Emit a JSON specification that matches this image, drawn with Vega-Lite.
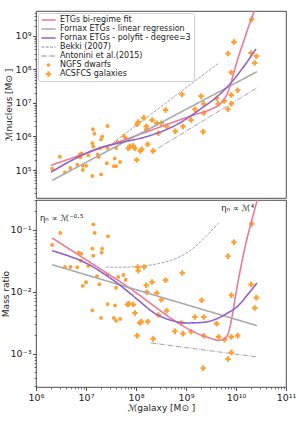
{
  "$schema": "https://vega.github.io/schema/vega-lite/v6.json",
  "padding": {"left": 0, "top": 10, "right": 0, "bottom": 0},
  "config": {
    "font": "DejaVu Sans",
    "view": {"stroke": "#222222", "strokeWidth": 0.8},
    "axis": {"labelFont": "DejaVu Sans", "titleFont": "DejaVu Sans", "labelFontSize": 9.5, "titleFontSize": 9, "titleFontWeight": "normal", "labelColor": "#222222", "titleColor": "#222222", "tickColor": "#222222", "domain": false, "grid": false, "tickSize": 3.5, "tickWidth": 0.8, "labelPadding": 1.5, "labelFlush": false, "labelOverlap": false}
  },
  "datasets": {
    "topPts": [
      {"M": 2.1e6, "N": 1.09e5, "s": "NGFS dwarfs"}, {"M": 3.0e6, "N": 2.5e5, "s": "NGFS dwarfs"}, {"M": 3.8e6, "N": 8.5e4, "s": "NGFS dwarfs"}, {"M": 4.85e6, "N": 1.15e5, "s": "NGFS dwarfs"}, {"M": 6.7e6, "N": 1.44e5, "s": "NGFS dwarfs"}, {"M": 7.1e6, "N": 2.5e5, "s": "NGFS dwarfs"}, {"M": 7.5e6, "N": 2.9e5, "s": "NGFS dwarfs"}, {"M": 8.1e6, "N": 3.1e5, "s": "NGFS dwarfs"}, {"M": 7.8e6, "N": 2.4e5, "s": "NGFS dwarfs"}, {"M": 8.6e6, "N": 1.34e5, "s": "NGFS dwarfs"}, {"M": 1.01e7, "N": 1.34e5, "s": "NGFS dwarfs"}, {"M": 8.6e6, "N": 1.0e5, "s": "NGFS dwarfs"}, {"M": 1.34e7, "N": 6.6e4, "s": "NGFS dwarfs"}, {"M": 2.0e7, "N": 7.4e4, "s": "NGFS dwarfs"}, {"M": 1.38e7, "N": 1.64e6, "s": "NGFS dwarfs"}, {"M": 1.47e7, "N": 1.21e6, "s": "NGFS dwarfs"}, {"M": 2.7e7, "N": 2.06e6, "s": "NGFS dwarfs"}, {"M": 2.1e7, "N": 9.9e5, "s": "NGFS dwarfs"}, {"M": 2.0e7, "N": 8.2e5, "s": "NGFS dwarfs"}, {"M": 1.34e7, "N": 6.3e5, "s": "NGFS dwarfs"}, {"M": 1.4e7, "N": 5.0e5, "s": "NGFS dwarfs"}, {"M": 1.93e7, "N": 4.45e5, "s": "NGFS dwarfs"}, {"M": 1.11e7, "N": 2.75e5, "s": "NGFS dwarfs"}, {"M": 1.71e7, "N": 2.9e5, "s": "NGFS dwarfs"}, {"M": 1.8e7, "N": 2.45e5, "s": "NGFS dwarfs"}, {"M": 2.7e7, "N": 4.5e5, "s": "NGFS dwarfs"}, {"M": 2.6e7, "N": 1.6e5, "s": "NGFS dwarfs"}, {"M": 3.75e7, "N": 2.2e5, "s": "NGFS dwarfs"}, {"M": 3.6e7, "N": 1.3e5, "s": "NGFS dwarfs"}, {"M": 4.0e7, "N": 1.3e5, "s": "NGFS dwarfs"}, {"M": 4.8e7, "N": 1.73e5, "s": "NGFS dwarfs"}, {"M": 4.2e7, "N": 6.9e5, "s": "NGFS dwarfs"}, {"M": 5.7e7, "N": 1.04e6, "s": "NGFS dwarfs"}, {"M": 4.0e7, "N": 4.5e5, "s": "NGFS dwarfs"}, {"M": 6.2e7, "N": 9.2e5, "s": "NGFS dwarfs"},
      {"M": 7.0e7, "N": 4.45e5, "s": "ACSFCS galaxies"}, {"M": 7.5e7, "N": 5.0e5, "s": "ACSFCS galaxies"}, {"M": 9.5e7, "N": 4.45e5, "s": "ACSFCS galaxies"}, {"M": 8.8e7, "N": 5.3e5, "s": "ACSFCS galaxies"}, {"M": 1.03e8, "N": 2.0e5, "s": "ACSFCS galaxies"}, {"M": 1.22e8, "N": 3.7e5, "s": "ACSFCS galaxies"}, {"M": 1.3e8, "N": 4.15e5, "s": "ACSFCS galaxies"}, {"M": 1.71e8, "N": 5.85e5, "s": "ACSFCS galaxies"}, {"M": 2.2e8, "N": 3.7e5, "s": "ACSFCS galaxies"}, {"M": 1.05e8, "N": 2.3e6, "s": "ACSFCS galaxies"}, {"M": 1.11e8, "N": 2.7e6, "s": "ACSFCS galaxies"}, {"M": 1.43e8, "N": 3.6e6, "s": "ACSFCS galaxies"}, {"M": 1.6e8, "N": 2.0e6, "s": "ACSFCS galaxies"}, {"M": 1.64e8, "N": 1.6e6, "s": "ACSFCS galaxies"}, {"M": 2.1e8, "N": 3.1e6, "s": "ACSFCS galaxies"}, {"M": 2.6e8, "N": 2.5e6, "s": "ACSFCS galaxies"}, {"M": 3.2e8, "N": 2.5e6, "s": "ACSFCS galaxies"}, {"M": 2.8e8, "N": 1.25e6, "s": "ACSFCS galaxies"}, {"M": 3.9e8, "N": 6.2e6, "s": "ACSFCS galaxies"}, {"M": 4.1e8, "N": 2.0e6, "s": "ACSFCS galaxies"}, {"M": 6.1e8, "N": 1.43e6, "s": "ACSFCS galaxies"}, {"M": 8.7e8, "N": 2.0e6, "s": "ACSFCS galaxies"}, {"M": 8.3e8, "N": 1.8e7, "s": "ACSFCS galaxies"}, {"M": 1.26e9, "N": 3.1e6, "s": "ACSFCS galaxies"}, {"M": 2.0e9, "N": 1.6e7, "s": "ACSFCS galaxies"}, {"M": 1.5e9, "N": 6.5e6, "s": "ACSFCS galaxies"}, {"M": 2.26e9, "N": 5.0e6, "s": "ACSFCS galaxies"}, {"M": 2.2e9, "N": 1.39e6, "s": "ACSFCS galaxies"}, {"M": 2.26e9, "N": 9.5e6, "s": "ACSFCS galaxies"}, {"M": 2.06e10, "N": 3.15e9, "s": "ACSFCS galaxies"}, {"M": 9.1e9, "N": 6.6e8, "s": "ACSFCS galaxies"}, {"M": 6.9e9, "N": 3.0e8, "s": "ACSFCS galaxies"}, {"M": 2.0e10, "N": 3.1e8, "s": "ACSFCS galaxies"}, {"M": 2.55e10, "N": 2.5e8, "s": "ACSFCS galaxies"}, {"M": 2.37e10, "N": 1.56e8, "s": "ACSFCS galaxies"}, {"M": 8.05e9, "N": 8.2e7, "s": "ACSFCS galaxies"}, {"M": 1.08e10, "N": 2.4e7, "s": "ACSFCS galaxies"}, {"M": 8.05e9, "N": 1.73e7, "s": "ACSFCS galaxies"}, {"M": 5.8e9, "N": 1.15e7, "s": "ACSFCS galaxies"}, {"M": 8.05e9, "N": 9.5e6, "s": "ACSFCS galaxies"}, {"M": 6.9e9, "N": 6.5e6, "s": "ACSFCS galaxies"}, {"M": 4.1e9, "N": 1.38e7, "s": "ACSFCS galaxies"}, {"M": 4.4e9, "N": 9.5e6, "s": "ACSFCS galaxies"}
    ],
    "botPts": [
      {"M": 2.1e6, "R": 0.0566, "s": "NGFS dwarfs"}, {"M": 3.06e6, "R": 0.0885, "s": "NGFS dwarfs"}, {"M": 1.4e7, "R": 0.122, "s": "NGFS dwarfs"}, {"M": 1.49e7, "R": 0.0885, "s": "NGFS dwarfs"}, {"M": 2.75e7, "R": 0.078, "s": "NGFS dwarfs"}, {"M": 1.34e7, "R": 0.0494, "s": "NGFS dwarfs"}, {"M": 2.1e7, "R": 0.0494, "s": "NGFS dwarfs"}, {"M": 2.06e7, "R": 0.0426, "s": "NGFS dwarfs"}, {"M": 1.4e7, "R": 0.0381, "s": "NGFS dwarfs"}, {"M": 7.1e6, "R": 0.0426, "s": "NGFS dwarfs"}, {"M": 8.05e6, "R": 0.041, "s": "NGFS dwarfs"}, {"M": 7.9e6, "R": 0.0316, "s": "NGFS dwarfs"}, {"M": 1.11e7, "R": 0.0262, "s": "NGFS dwarfs"}, {"M": 3.8e6, "R": 0.025, "s": "NGFS dwarfs"}, {"M": 4.9e6, "R": 0.025, "s": "NGFS dwarfs"}, {"M": 6.7e6, "R": 0.0248, "s": "NGFS dwarfs"}, {"M": 1.66e7, "R": 0.0177, "s": "NGFS dwarfs"}, {"M": 2.7e7, "R": 0.0188, "s": "NGFS dwarfs"}, {"M": 4.4e7, "R": 0.0173, "s": "NGFS dwarfs"}, {"M": 5.6e7, "R": 0.0186, "s": "NGFS dwarfs"}, {"M": 1.0e7, "R": 0.0142, "s": "NGFS dwarfs"}, {"M": 8.6e6, "R": 0.0124, "s": "NGFS dwarfs"}, {"M": 1.85e7, "R": 0.0132, "s": "NGFS dwarfs"}, {"M": 4.0e7, "R": 0.0116, "s": "NGFS dwarfs"}, {"M": 1.34e7, "R": 0.005, "s": "NGFS dwarfs"}, {"M": 2.7e7, "R": 0.0063, "s": "NGFS dwarfs"}, {"M": 3.8e7, "R": 0.006, "s": "NGFS dwarfs"}, {"M": 2.0e7, "R": 0.00377, "s": "NGFS dwarfs"}, {"M": 3.6e7, "R": 0.00377, "s": "NGFS dwarfs"}, {"M": 4.0e7, "R": 0.0034, "s": "NGFS dwarfs"}, {"M": 4.8e7, "R": 0.00363, "s": "NGFS dwarfs"}, {"M": 6.2e7, "R": 0.0156, "s": "NGFS dwarfs"},
      {"M": 1.08e8, "R": 0.025, "s": "ACSFCS galaxies"}, {"M": 1.11e8, "R": 0.0218, "s": "ACSFCS galaxies"}, {"M": 1.45e8, "R": 0.025, "s": "ACSFCS galaxies"}, {"M": 1.6e8, "R": 0.0127, "s": "ACSFCS galaxies"}, {"M": 2.1e8, "R": 0.0143, "s": "ACSFCS galaxies"}, {"M": 3.9e8, "R": 0.0153, "s": "ACSFCS galaxies"}, {"M": 8.4e8, "R": 0.02, "s": "ACSFCS galaxies"}, {"M": 1.64e8, "R": 0.0098, "s": "ACSFCS galaxies"}, {"M": 2.6e8, "R": 0.0095, "s": "ACSFCS galaxies"}, {"M": 3.2e8, "R": 0.0074, "s": "ACSFCS galaxies"}, {"M": 6.8e7, "R": 0.0062, "s": "ACSFCS galaxies"}, {"M": 7.2e7, "R": 0.0064, "s": "ACSFCS galaxies"}, {"M": 8.8e7, "R": 0.0062, "s": "ACSFCS galaxies"}, {"M": 9.5e7, "R": 0.00453, "s": "ACSFCS galaxies"}, {"M": 1.19e8, "R": 0.00313, "s": "ACSFCS galaxies"}, {"M": 1.28e8, "R": 0.00328, "s": "ACSFCS galaxies"}, {"M": 1.71e8, "R": 0.00328, "s": "ACSFCS galaxies"}, {"M": 2.8e8, "R": 0.0042, "s": "ACSFCS galaxies"}, {"M": 1.05e8, "R": 0.00195, "s": "ACSFCS galaxies"}, {"M": 2.2e8, "R": 0.00173, "s": "ACSFCS galaxies"}, {"M": 4.1e8, "R": 0.00494, "s": "ACSFCS galaxies"}, {"M": 8.05e8, "R": 0.00313, "s": "ACSFCS galaxies"}, {"M": 6.0e8, "R": 0.0023, "s": "ACSFCS galaxies"}, {"M": 8.7e8, "R": 0.0021, "s": "ACSFCS galaxies"}, {"M": 1.26e9, "R": 0.00226, "s": "ACSFCS galaxies"}, {"M": 2.06e9, "R": 0.00726, "s": "ACSFCS galaxies"}, {"M": 1.5e9, "R": 0.0039, "s": "ACSFCS galaxies"}, {"M": 2.26e9, "R": 0.0039, "s": "ACSFCS galaxies"}, {"M": 2.26e9, "R": 0.00195, "s": "ACSFCS galaxies"}, {"M": 2.2e9, "R": 0.000582, "s": "ACSFCS galaxies"}, {"M": 2.06e10, "R": 0.1236, "s": "ACSFCS galaxies"}, {"M": 9.1e9, "R": 0.0627, "s": "ACSFCS galaxies"}, {"M": 6.9e9, "R": 0.0373, "s": "ACSFCS galaxies"}, {"M": 2.0e10, "R": 0.013, "s": "ACSFCS galaxies"}, {"M": 2.55e10, "R": 0.008, "s": "ACSFCS galaxies"}, {"M": 2.37e10, "R": 0.00546, "s": "ACSFCS galaxies"}, {"M": 8.05e9, "R": 0.00875, "s": "ACSFCS galaxies"}, {"M": 4.1e9, "R": 0.00305, "s": "ACSFCS galaxies"}, {"M": 4.5e9, "R": 0.00186, "s": "ACSFCS galaxies"}, {"M": 5.9e9, "R": 0.00168, "s": "ACSFCS galaxies"}, {"M": 8.05e9, "R": 0.00186, "s": "ACSFCS galaxies"}, {"M": 1.08e10, "R": 0.00195, "s": "ACSFCS galaxies"}, {"M": 8.05e9, "R": 0.00104, "s": "ACSFCS galaxies"}, {"M": 6.9e9, "R": 0.00082, "s": "ACSFCS galaxies"}
    ],
    "topMain": [
      {"M": 2.0e6, "N": 1.38e5, "s": "ETGs bi-regime fit"}, {"M": 5.0e7, "N": 7.3e5, "s": "ETGs bi-regime fit"}, {"M": 1.58e9, "N": 4.6e6, "s": "ETGs bi-regime fit"}, {"M": 3.16e9, "N": 6.5e6, "s": "ETGs bi-regime fit"}, {"M": 4.37e9, "N": 8.4e6, "s": "ETGs bi-regime fit"}, {"M": 5.83e9, "N": 1.29e7, "s": "ETGs bi-regime fit"}, {"M": 6.8e9, "N": 2.03e7, "s": "ETGs bi-regime fit"}, {"M": 7.94e9, "N": 4.0e7, "s": "ETGs bi-regime fit"}, {"M": 9.25e9, "N": 9.0e7, "s": "ETGs bi-regime fit"}, {"M": 1.16e10, "N": 2.84e8, "s": "ETGs bi-regime fit"}, {"M": 1.47e10, "N": 8.0e8, "s": "ETGs bi-regime fit"}, {"M": 1.85e10, "N": 2.23e9, "s": "ETGs bi-regime fit"}, {"M": 2.32e10, "N": 5.6e9, "s": "ETGs bi-regime fit"}, {"M": 2.82e10, "N": 1.33e10, "s": "ETGs bi-regime fit"},
      {"M": 2.1e6, "N": 4.9e4, "s": "Fornax ETGs - linear regression"}, {"M": 2.63e10, "N": 8.6e7, "s": "Fornax ETGs - linear regression"},
      {"M": 2.0e6, "N": 8.7e4, "s": "Fornax ETGs - polyfit - degree=3"}, {"M": 5.4e6, "N": 2.0e5, "s": "Fornax ETGs - polyfit - degree=3"}, {"M": 1.58e7, "N": 4.17e5, "s": "Fornax ETGs - polyfit - degree=3"}, {"M": 5.0e7, "N": 6.6e5, "s": "Fornax ETGs - polyfit - degree=3"}, {"M": 1.58e8, "N": 9.8e5, "s": "Fornax ETGs - polyfit - degree=3"}, {"M": 7.35e8, "N": 2.5e6, "s": "Fornax ETGs - polyfit - degree=3"}, {"M": 2.0e9, "N": 6.8e6, "s": "Fornax ETGs - polyfit - degree=3"}, {"M": 4.3e9, "N": 1.6e7, "s": "Fornax ETGs - polyfit - degree=3"}, {"M": 7.94e9, "N": 4.0e7, "s": "Fornax ETGs - polyfit - degree=3"}, {"M": 1.47e10, "N": 1.3e8, "s": "Fornax ETGs - polyfit - degree=3"}, {"M": 2.51e10, "N": 4.1e8, "s": "Fornax ETGs - polyfit - degree=3"}
    ],
    "topRef": [
      {"M": 2.5e7, "N": 4.45e5, "s": "Bekki (2007)"}, {"M": 4.63e9, "N": 1.6e8, "s": "Bekki (2007)"},
      {"M": 2.0e8, "N": 3.33e5, "s": "Antonini et al.(2015)"}, {"M": 2.67e10, "N": 2.86e7, "s": "Antonini et al.(2015)"}
    ],
    "botMain": [
      {"M": 2.1e6, "R": 0.0735, "s": "ETGs bi-regime fit"}, {"M": 5.0e7, "R": 0.0142, "s": "ETGs bi-regime fit"}, {"M": 2.32e9, "R": 0.00191, "s": "ETGs bi-regime fit"}, {"M": 3.42e9, "R": 0.00173, "s": "ETGs bi-regime fit"}, {"M": 4.3e9, "R": 0.00164, "s": "ETGs bi-regime fit"}, {"M": 5.42e9, "R": 0.00168, "s": "ETGs bi-regime fit"}, {"M": 6.82e9, "R": 0.00202, "s": "ETGs bi-regime fit"}, {"M": 7.35e9, "R": 0.00244, "s": "ETGs bi-regime fit"}, {"M": 8.6e9, "R": 0.00453, "s": "ETGs bi-regime fit"}, {"M": 1.0e10, "R": 0.00953, "s": "ETGs bi-regime fit"}, {"M": 1.26e10, "R": 0.0257, "s": "ETGs bi-regime fit"}, {"M": 1.58e10, "R": 0.061, "s": "ETGs bi-regime fit"}, {"M": 2.0e10, "R": 0.128, "s": "ETGs bi-regime fit"}, {"M": 2.51e10, "R": 0.253, "s": "ETGs bi-regime fit"}, {"M": 2.9e10, "R": 0.39, "s": "ETGs bi-regime fit"},
      {"M": 2.1e6, "R": 0.0272, "s": "Fornax ETGs - linear regression"}, {"M": 2.63e10, "R": 0.00283, "s": "Fornax ETGs - linear regression"},
      {"M": 2.1e6, "R": 0.0458, "s": "Fornax ETGs - polyfit - degree=3"}, {"M": 4.63e6, "R": 0.0373, "s": "Fornax ETGs - polyfit - degree=3"}, {"M": 1.0e7, "R": 0.029, "s": "Fornax ETGs - polyfit - degree=3"}, {"M": 2.16e7, "R": 0.02, "s": "Fornax ETGs - polyfit - degree=3"}, {"M": 4.63e7, "R": 0.013, "s": "Fornax ETGs - polyfit - degree=3"}, {"M": 1.08e8, "R": 0.00743, "s": "Fornax ETGs - polyfit - degree=3"}, {"M": 2.32e8, "R": 0.00453, "s": "Fornax ETGs - polyfit - degree=3"}, {"M": 5.0e8, "R": 0.00346, "s": "Fornax ETGs - polyfit - degree=3"}, {"M": 1.08e9, "R": 0.00313, "s": "Fornax ETGs - polyfit - degree=3"}, {"M": 2.32e9, "R": 0.00321, "s": "Fornax ETGs - polyfit - degree=3"}, {"M": 3.68e9, "R": 0.00353, "s": "Fornax ETGs - polyfit - degree=3"}, {"M": 6.82e9, "R": 0.00453, "s": "Fornax ETGs - polyfit - degree=3"}, {"M": 1.08e10, "R": 0.00582, "s": "Fornax ETGs - polyfit - degree=3"}, {"M": 1.71e10, "R": 0.00896, "s": "Fornax ETGs - polyfit - degree=3"}, {"M": 2.63e10, "R": 0.0138, "s": "Fornax ETGs - polyfit - degree=3"}
    ],
    "botRef": [
      {"M": 2.5e7, "R": 0.0248, "s": "Bekki (2007)"}, {"M": 5.0e7, "R": 0.0248, "s": "Bekki (2007)"}, {"M": 1.26e8, "R": 0.0257, "s": "Bekki (2007)"}, {"M": 3.16e8, "R": 0.029, "s": "Bekki (2007)"}, {"M": 7.94e8, "R": 0.0373, "s": "Bekki (2007)"}, {"M": 1.58e9, "R": 0.0546, "s": "Bekki (2007)"}, {"M": 2.5e9, "R": 0.0777, "s": "Bekki (2007)"}, {"M": 4.5e9, "R": 0.128, "s": "Bekki (2007)"},
      {"M": 2.0e8, "R": 0.00149, "s": "Antonini et al.(2015)"}, {"M": 2.63e10, "R": 0.000885, "s": "Antonini et al.(2015)"}
    ],
    "notes": [
      {"M": 1.2e6, "R": 0.155, "t": "ηₙ ∝ ℳ⁻⁰·⁵", "a": "left"},
      {"M": 2.3e10, "R": 0.222, "t": "ηₙ ∝ ℳ⁴", "a": "right"}
    ]
  },
  "spacing": 0,
  "resolve": {"legend": {"color": "independent", "shape": "independent", "strokeDash": "independent"}},
  "vconcat": [
    {
      "width": 250,
      "height": 187,
      "resolve": {"axis": {"x": "independent", "y": "independent"}},
      "layer": [
        {
          "encoding": {
            "x": {"field": "M", "type": "quantitative", "scale": {"type": "log", "domain": [1e6, 1e11], "nice": false}, "axis": null},
            "y": {"field": "N", "type": "quantitative", "scale": {"type": "log", "domain": [14600, 5.57e9], "nice": false},
                  "axis": {"values": [1e5, 1e6, 1e7, 1e8, 1e9], "labelExpr": "['10⁵','10⁶','10⁷','10⁸','10⁹'][round(log(datum.value)/LN10)-5]", "title": "ℳnucleus [M⊙ ]", "titleX": -28, "titleBaseline": "middle"}},
            "color": {"field": "s", "type": "nominal",
              "scale": {"domain": ["ETGs bi-regime fit", "Fornax ETGs - linear regression", "Fornax ETGs - polyfit - degree=3", "Bekki (2007)", "Antonini et al.(2015)", "NGFS dwarfs", "ACSFCS galaxies"],
                        "range": ["#ea7a98", "#aaaaaa", "#9063c4", "#8c8c8c", "#8c8c8c", "#ffa033", "#ffa033"]},
              "legend": {"title": null, "orient": "top-left", "offset": 2, "padding": 3, "strokeColor": "#d0d0d0", "fillColor": "#ffffff", "cornerRadius": 2,
                         "labelFontSize": 8, "labelFont": "DejaVu Sans", "labelColor": "#222222", "symbolSize": 50, "rowPadding": 1, "labelOffset": 7.4, "symbolOffset": 3.5, "labelLimit": 300,
                         "encode": {"symbols": {"update": {
                            "fill": {"signal": "scale('color', datum.value)"},
                            "stroke": {"signal": "scale('color', datum.value)"},
                            "opacity": {"value": 1},
                            "size": {"signal": "datum.value === 'NGFS dwarfs' ? 14 : (datum.value === 'ACSFCS galaxies' ? 28 : 50)"},
                            "strokeWidth": {"signal": "(datum.value === 'NGFS dwarfs' || datum.value === 'ACSFCS galaxies') ? 0 : ((datum.value === 'Bekki (2007)' || datum.value === 'Antonini et al.(2015)') ? 1 : 1.6)"}
                         }}}}
            }
          },
          "layer": [
            {
              "data": {"name": "topRef"},
              "mark": {"type": "line", "strokeWidth": 0.8, "clip": true},
              "encoding": {
                "strokeDash": {"field": "s", "type": "nominal", "scale": {"domain": ["ETGs bi-regime fit", "Fornax ETGs - linear regression", "Fornax ETGs - polyfit - degree=3", "Bekki (2007)", "Antonini et al.(2015)", "NGFS dwarfs", "ACSFCS galaxies"], "range": [[1, 0], [1, 0], [1, 0], [3, 1.3], [5, 1.3, 0.8, 1.3], [1, 0], [1, 0]]}, "legend": {"title": null}}
              }
            },
            {
              "data": {"name": "topPts"},
              "transform": [{"filter": "datum.s === 'NGFS dwarfs'"}],
              "mark": {"type": "point", "filled": true, "size": 15, "opacity": 1},
              "encoding": {
                "shape": {"field": "s", "type": "nominal", "scale": {"domain": ["ETGs bi-regime fit", "Fornax ETGs - linear regression", "Fornax ETGs - polyfit - degree=3", "Bekki (2007)", "Antonini et al.(2015)", "NGFS dwarfs", "ACSFCS galaxies"], "range": ["M-2,0L2,0", "M-2,0L2,0", "M-2,0L2,0", "M-2,0L2,0", "M-2,0L2,0", "circle", "cross"]}, "legend": {"title": null}}
              }
            },
            {
              "data": {"name": "topPts"},
              "transform": [{"filter": "datum.s === 'ACSFCS galaxies'"}],
              "mark": {"type": "point", "filled": true, "size": 30, "opacity": 1},
              "encoding": {"shape": {"field": "s", "type": "nominal", "legend": {"title": null}}}
            },
            {
              "data": {"name": "topMain"},
              "mark": {"type": "line", "strokeWidth": 1.6, "clip": true, "interpolate": "monotone"},
              "encoding": {"strokeDash": {"field": "s", "type": "nominal", "legend": {"title": null}}}
            },
            {
              "data": {"values": [{}]},
              "mark": {"type": "rule", "clip": false, "strokeWidth": 1.6},
              "encoding": {
                "x": {"datum": 158500},
                "x2": {"datum": 160000000000},
                "y": {"datum": 14600},
                "color": {"value": "#aaaaaa"}
              }
            }
          ]
        },
        {
          "data": {"name": "topRef"},
          "mark": {"type": "point", "opacity": 0},
          "encoding": {
            "x": {"field": "M", "type": "quantitative", "axis": null},
            "y": {"field": "N", "type": "quantitative",
                  "axis": {"orient": "left", "labels": false, "title": null, "tickSize": 2, "tickWidth": 0.6,
                           "values": [20000, 30000, 40000, 50000, 60000, 70000, 80000, 90000, 200000, 300000, 400000, 500000, 600000, 700000, 800000, 900000, 2000000, 3000000, 4000000, 5000000, 6000000, 7000000, 8000000, 9000000, 20000000, 30000000, 40000000, 50000000, 60000000, 70000000, 80000000, 90000000, 200000000, 300000000, 400000000, 500000000, 600000000, 700000000, 800000000, 900000000, 2000000000, 3000000000, 4000000000, 5000000000]}}
          }
        }
      ]
    },
    {
      "width": 250,
      "height": 187,
      "resolve": {"axis": {"x": "independent", "y": "independent"}},
      "layer": [
        {
          "encoding": {
            "x": {"field": "M", "type": "quantitative", "scale": {"type": "log", "domain": [1e6, 1e11], "nice": false},
                  "axis": {"values": [1e6, 1e7, 1e8, 1e9, 1e10, 1e11], "labelExpr": "['10⁶','10⁷','10⁸','10⁹','10¹⁰','10¹¹'][round(log(datum.value)/LN10)-6]", "title": "ℳgalaxy [M⊙ ]", "titlePadding": 1, "labelPadding": 2}},
            "y": {"field": "R", "type": "quantitative", "scale": {"type": "log", "domain": [0.00029, 0.301], "nice": false},
                  "axis": {"values": [0.001, 0.01, 0.1], "labelExpr": "['10⁻³','10⁻²','10⁻¹'][round(log(datum.value)/LN10)+3]", "title": "Mass ratio", "titleX": -31, "titleBaseline": "middle"}},
            "color": {"field": "s", "type": "nominal", "legend": null}
          },
          "layer": [
            {
              "data": {"name": "botRef"},
              "mark": {"type": "line", "strokeWidth": 0.8, "clip": true, "interpolate": "monotone"},
              "encoding": {"strokeDash": {"field": "s", "type": "nominal", "legend": null}}
            },
            {
              "data": {"name": "botPts"},
              "transform": [{"filter": "datum.s === 'NGFS dwarfs'"}],
              "mark": {"type": "point", "filled": true, "size": 15, "opacity": 1},
              "encoding": {"shape": {"field": "s", "type": "nominal", "legend": null}}
            },
            {
              "data": {"name": "botPts"},
              "transform": [{"filter": "datum.s === 'ACSFCS galaxies'"}],
              "mark": {"type": "point", "filled": true, "size": 30, "opacity": 1},
              "encoding": {"shape": {"field": "s", "type": "nominal", "legend": null}}
            },
            {
              "data": {"name": "botMain"},
              "mark": {"type": "line", "strokeWidth": 1.6, "clip": true, "interpolate": "monotone"},
              "encoding": {"strokeDash": {"field": "s", "type": "nominal", "legend": null}}
            },
            {
              "data": {"name": "notes"},
              "transform": [{"filter": "datum.a === 'left'"}],
              "mark": {"type": "text", "align": "left", "baseline": "middle", "fontSize": 8.5, "font": "DejaVu Sans"},
              "encoding": {"text": {"field": "t"}, "color": {"value": "#222222"}}
            },
            {
              "data": {"name": "notes"},
              "transform": [{"filter": "datum.a === 'right'"}],
              "mark": {"type": "text", "align": "right", "baseline": "middle", "fontSize": 8.5, "font": "DejaVu Sans"},
              "encoding": {"text": {"field": "t"}, "color": {"value": "#222222"}}
            }
          ]
        },
        {
          "data": {"name": "botRef"},
          "mark": {"type": "point", "opacity": 0},
          "encoding": {
            "x": {"field": "M", "type": "quantitative",
                  "axis": {"orient": "bottom", "labels": false, "title": null, "tickSize": 2, "tickWidth": 0.6,
                           "values": [2000000, 3000000, 4000000, 5000000, 6000000, 7000000, 8000000, 9000000, 20000000, 30000000, 40000000, 50000000, 60000000, 70000000, 80000000, 90000000, 200000000, 300000000, 400000000, 500000000, 600000000, 700000000, 800000000, 900000000, 2000000000, 3000000000, 4000000000, 5000000000, 6000000000, 7000000000, 8000000000, 9000000000, 20000000000, 30000000000, 40000000000, 50000000000, 60000000000, 70000000000, 80000000000, 90000000000]}},
            "y": {"field": "R", "type": "quantitative",
                  "axis": {"orient": "left", "labels": false, "title": null, "tickSize": 2, "tickWidth": 0.6,
                           "values": [0.0003, 0.0004, 0.0005, 0.0006, 0.0007, 0.0008, 0.0009, 0.002, 0.003, 0.004, 0.005, 0.006, 0.007, 0.008, 0.009, 0.02, 0.03, 0.04, 0.05, 0.06, 0.07, 0.08, 0.09, 0.2, 0.3]}}
          }
        }
      ]
    }
  ]
}
